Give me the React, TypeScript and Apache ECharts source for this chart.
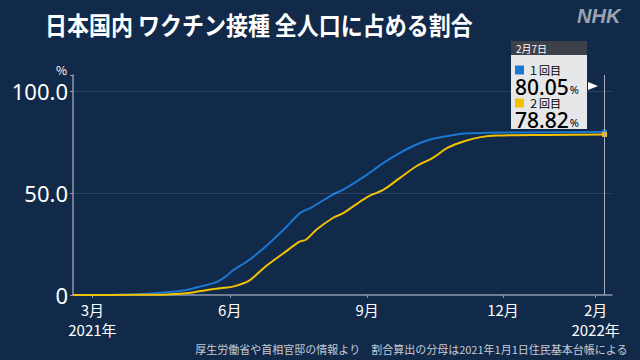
import React, { useEffect, useRef } from "react";
import * as echarts from "echarts";

const axisStart = "2021-02-16";
const axisEnd = "2022-02-12";
const markDate = "2022-02-07";
const markLabel = "2月7日";

const dose1Dates = [
  "2021-02-16", "2021-03-15", "2021-04-01", "2021-04-20", "2021-05-03", "2021-05-12",
  "2021-05-23", "2021-05-30", "2021-06-03", "2021-06-14", "2021-06-25", "2021-07-07",
  "2021-07-18", "2021-07-25", "2021-08-09", "2021-08-16", "2021-09-01", "2021-09-12",
  "2021-09-23", "2021-10-04", "2021-10-15", "2021-10-27", "2021-11-05", "2021-11-20",
  "2021-12-15", "2022-01-15", "2022-02-07",
];
const dose1Values = [
  0, 0.1, 0.4, 1.3, 2.5, 4.1,
  6.3, 9.5, 12.0, 17.2, 23.8, 32.0,
  40.2, 42.7, 49.3, 51.7, 59.1, 64.9,
  69.8, 73.9, 76.7, 78.3, 79.3, 79.6,
  79.8, 79.9, 80.05,
];

const dose2Dates = [
  "2021-02-16", "2021-04-01", "2021-04-20", "2021-05-06", "2021-05-17", "2021-05-28",
  "2021-06-03", "2021-06-14", "2021-06-25", "2021-07-07", "2021-07-18", "2021-07-22",
  "2021-07-29", "2021-08-09", "2021-08-16", "2021-09-01", "2021-09-12", "2021-09-23",
  "2021-10-04", "2021-10-15", "2021-10-25", "2021-11-05", "2021-11-16", "2021-11-27",
  "2021-12-31", "2022-02-07",
];
const dose2Values = [
  0, 0.1, 0.3, 1.1, 2.5, 3.6,
  4.1, 7.1, 14.0, 20.5, 26.3, 27.1,
  32.0, 37.8, 40.2, 48.1, 51.7, 57.5,
  63.2, 67.3, 72.3, 75.5, 77.5, 78.3,
  78.6, 78.82,
];

const labelMonths = [3, 6, 9, 12, 2];
const yTicks = [0, 50, 100];
const seriesNames = ["１回目", "２回目"];

const BLUE = "#1a78d2";
const YELLOW = "#f2c200";
const BG = "#122a4a";

function buildDays(start: string, end: string): string[] {
  const out: string[] = [];
  const d = new Date(start + "T00:00:00Z");
  const e = new Date(end + "T00:00:00Z");
  while (d.getTime() <= e.getTime()) {
    out.push(d.toISOString().slice(0, 10));
    d.setUTCDate(d.getUTCDate() + 1);
  }
  return out;
}

function isLabelDay(v: string): boolean {
  const m = parseInt(v.slice(5, 7), 10);
  return v.slice(8, 10) === "01" && labelMonths.indexOf(m) >= 0;
}

function pairs(dates: string[], vals: number[], color: string) {
  return dates.map((d, i) =>
    i === dates.length - 1
      ? { value: [d, vals[i]], symbol: "rect", symbolSize: 5, itemStyle: { color } }
      : [d, vals[i]]
  );
}

export default function App() {
  const ref = useRef<HTMLDivElement>(null);
  useEffect(() => {
    document.body.style.margin = "0";
    const chart = echarts.init(ref.current!, null, { renderer: "svg" });
    const days = buildDays(axisStart, axisEnd);
    const firstLabel = days.find((d) => isLabelDay(d));
    const v1 = dose1Values[dose1Values.length - 1].toFixed(2);
    const v2 = dose2Values[dose2Values.length - 1].toFixed(2);
    const font = "'Noto Sans CJK JP', 'Noto Sans', sans-serif";
    const numStyle = {
      fontSize: 21,
      fontWeight: 500,
      fontFamily: "'Noto Sans', sans-serif",
      color: "#111111",
      lineHeight: 17,
      verticalAlign: "middle",
    };
    const pctStyle = {
      fontSize: 11,
      fontFamily: "'Noto Sans', sans-serif",
      color: "#222222",
      lineHeight: 17,
      verticalAlign: "middle",
      padding: [6, 0, 0, 1],
    };
    const lblStyle = {
      fontSize: 11,
      fontFamily: font,
      color: "#333333",
      lineHeight: 16,
      verticalAlign: "middle",
      padding: [0, 0, 0, 4],
    };
    chart.setOption({
      animation: false,
      backgroundColor: BG,
      textStyle: { fontFamily: font },
      grid: { left: 73, right: 28, top: 75, bottom: 65 },
      xAxis: {
        type: "category",
        data: days,
        boundaryGap: false,
        axisLine: { lineStyle: { color: "#8e99ab", width: 1.5 } },
        axisTick: { interval: (i: number, v: string) => isLabelDay(v), length: 3, lineStyle: { color: "#8e99ab" } },
        axisLabel: {
          interval: (i: number, v: string) => isLabelDay(v),
          color: "#ffffff",
          fontSize: 15,
          lineHeight: 20,
          margin: 4,
          fontFamily: font,
          formatter: (v: string) => {
            const m = parseInt(v.slice(5, 7), 10);
            const y = v.slice(0, 4);
            let s = m + "月";
            if (v === firstLabel) s += "\n" + y + "年";
            if (m === 2) s += "\n" + y + "年";
            return s;
          },
        },
        splitLine: { show: false },
      },
      yAxis: {
        type: "value",
        min: 0,
        max: 108,
        interval: 50,
        name: "%",
        nameGap: 0,
        nameTextStyle: { color: "#ffffff", fontSize: 12, align: "right", padding: [0, 6, 0, 0] },
        axisLine: { show: true, lineStyle: { color: "#8e99ab", width: 1.5 } },
        axisTick: { show: true, length: 3, lineStyle: { color: "#8e99ab" } },
        axisLabel: {
          color: "#ffffff",
          fontSize: 22,
          margin: 5,
          fontFamily: "'Noto Sans', sans-serif",
          formatter: (v: number) => (yTicks.indexOf(v) >= 0 ? (v === 0 ? "0" : v.toFixed(1)) : ""),
        },
        splitLine: { show: false },
      },
      series: [
        {
          name: seriesNames[0],
          type: "line",
          data: pairs(dose1Dates, dose1Values, BLUE),
          symbol: "none",
          showAllSymbol: true,
          smooth: 0.3,
          lineStyle: { color: BLUE, width: 2 },
          itemStyle: { color: BLUE },
          z: 3,
          markLine: {
            silent: true,
            symbol: "none",
            label: { show: false },
            data: [
              { yAxis: 50, lineStyle: { color: "rgba(255,255,255,0.12)", width: 1, type: "solid" } },
              { yAxis: 100, lineStyle: { color: "rgba(255,255,255,0.12)", width: 1, type: "solid" } },
              { xAxis: markDate, lineStyle: { color: "#a3adbd", width: 1, type: "solid" } },
            ],
          },
        },
        {
          name: seriesNames[1],
          type: "line",
          data: pairs(dose2Dates, dose2Values, YELLOW),
          symbol: "none",
          showAllSymbol: true,
          smooth: 0.3,
          lineStyle: { color: YELLOW, width: 2 },
          itemStyle: { color: YELLOW },
          z: 4,
        },
      ],
      graphic: [
        {
          type: "text",
          x: 45,
          y: 24,
          scaleY: 1.12,
          style: {
            text: "日本国内 ワクチン接種 全人口に占める割合",
            fill: "#ffffff",
            font: "bold 22px " + font,
            verticalAlign: "middle",
            shadowColor: "rgba(0,0,0,0.9)",
            shadowBlur: 3,
            shadowOffsetX: 1,
            shadowOffsetY: 1,
          },
        },
        {
          type: "text",
          left: 577,
          top: 6,
          style: {
            text: "NHK",
            fill: "#9aa3b1",
            font: "italic 900 20px 'Liberation Sans', Arial, sans-serif",
          },
        },
        {
          type: "text",
          right: 12,
          top: 343,
          style: {
            text: "厚生労働省や首相官邸の情報より　割合算出の分母は2021年1月1日住民基本台帳による",
            fill: "#c5cbd5",
            font: "11px " + font,
          },
        },
        { type: "rect", shape: { x: 511, y: 41, width: 76, height: 14 }, style: { fill: "#3b4049" } },
        { type: "text", x: 516, y: 48, style: { text: markLabel, fill: "#ffffff", font: "10px " + font, verticalAlign: "middle" } },
        { type: "rect", shape: { x: 511, y: 55, width: 76, height: 74 }, style: { fill: "#e6e7e9" } },
        {
          type: "text",
          x: 515,
          y: 62,
          style: {
            text:
              "{s1|}{l|" + seriesNames[0] + "}\n{n|" + v1 + "}{p|%}\n{s2|}{l|" + seriesNames[1] + "}\n{n|" + v2 + "}{p|%}",
            verticalAlign: "top",
            align: "left",
            rich: {
              s1: { width: 9, height: 9, backgroundColor: BLUE, lineHeight: 16, verticalAlign: "middle" },
              s2: { width: 9, height: 9, backgroundColor: YELLOW, lineHeight: 16, verticalAlign: "middle" },
              l: lblStyle,
              n: numStyle,
              p: pctStyle,
            },
          },
        },
        {
          type: "polygon",
          shape: { points: [[588, 82], [598, 86], [588, 90]] },
          style: { fill: "#ffffff" },
        },
      ],
    });
    return () => chart.dispose();
  }, []);
  return <div ref={ref} style={{ position: "absolute", left: 0, top: 0, width: 640, height: 360 }} />;
}
